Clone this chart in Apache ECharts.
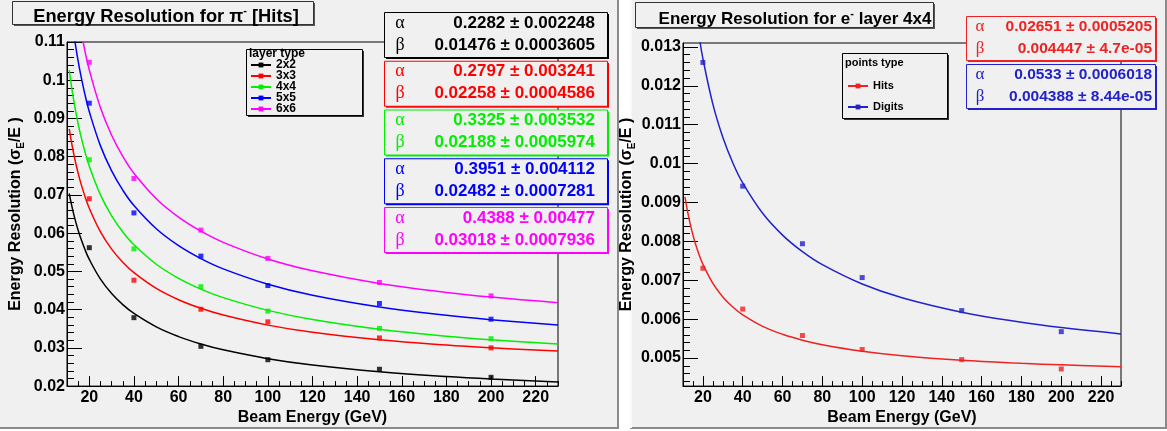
<!DOCTYPE html>
<html><head><meta charset="utf-8">
<script src="https://cdn.jsdelivr.net/npm/echarts@6/dist/echarts.min.js"></script>
<style>html,body{margin:0;padding:0;background:#fff}#c{width:1167px;height:431px}</style>
</head><body><div id="c"></div>
<script>
// ---------- data ----------
const energies = [20, 40, 70, 100, 150, 200];
const layerTypes = ['2x2', '3x3', '4x4', '5x5', '6x6'];
const pionRes2x2 = [0.0562, 0.0379, 0.0304, 0.0269, 0.0244, 0.0223];
const pionRes3x3 = [0.0690, 0.0477, 0.0401, 0.0368, 0.0326, 0.0300];
const pionRes4x4 = [0.0792, 0.0559, 0.0460, 0.0396, 0.0351, 0.0324];
const pionRes5x5 = [0.0940, 0.0653, 0.0540, 0.0463, 0.0416, 0.0375];
const pionRes6x6 = [0.1047, 0.0743, 0.0608, 0.0534, 0.0471, 0.0436];

const fitEnergies = [11, 12, 13, 14, 15, 16, 18, 20, 25, 30, 35, 40, 50, 60, 70, 80, 100, 120, 150, 180, 200, 230];
const pionFit2x2 = [0.07037, 0.06751, 0.06499, 0.06275, 0.06074, 0.05893, 0.05578, 0.05312, 0.04797, 0.04420, 0.04130, 0.03899, 0.03549, 0.03295, 0.03101, 0.02948, 0.02718, 0.02553, 0.02377, 0.02252, 0.02187, 0.02108];
const pionFit3x3 = [0.08730, 0.08384, 0.08080, 0.07809, 0.07567, 0.07348, 0.06969, 0.06650, 0.06032, 0.05584, 0.05239, 0.04966, 0.04555, 0.04259, 0.04034, 0.03857, 0.03595, 0.03409, 0.03212, 0.03073, 0.03002, 0.02916];
const pionFit4x4 = [0.10262, 0.09845, 0.09478, 0.09152, 0.08860, 0.08596, 0.08137, 0.07750, 0.07001, 0.06453, 0.06032, 0.05695, 0.05187, 0.04819, 0.04537, 0.04314, 0.03981, 0.03742, 0.03487, 0.03306, 0.03212, 0.03098];
const pionFit5x5 = [0.12168, 0.11673, 0.11236, 0.10847, 0.10499, 0.10185, 0.09638, 0.09177, 0.08283, 0.07628, 0.07125, 0.06722, 0.06114, 0.05673, 0.05335, 0.05067, 0.04666, 0.04378, 0.04071, 0.03851, 0.03738, 0.03599];
const pionFit6x6 = [0.13570, 0.13022, 0.12539, 0.12110, 0.11725, 0.11378, 0.10774, 0.10266, 0.09281, 0.08561, 0.08008, 0.07566, 0.06901, 0.06419, 0.06051, 0.05760, 0.05325, 0.05016, 0.04685, 0.04451, 0.04329, 0.04181];

const pionAlpha = ['0.2282 ± 0.002248', '0.2797 ± 0.003241', '0.3325 ± 0.003532', '0.3951 ± 0.004112', '0.4388 ± 0.00477'];
const pionBeta = ['0.01476 ± 0.0003605', '0.02258 ± 0.0004586', '0.02188 ± 0.0005974', '0.02482 ± 0.0007281', '0.03018 ± 0.0007936'];

const pointTypes = ['Hits', 'Digits'];
const electronHits = [0.00731, 0.00626, 0.00558, 0.00522, 0.00496, 0.00472];
const electronDigits = [0.0126, 0.00942, 0.00794, 0.00707, 0.00622, 0.00568];
const elecFitHits = [0.009147, 0.008851, 0.008593, 0.008365, 0.008163, 0.007981, 0.007670, 0.007411, 0.006920, 0.006573, 0.006313, 0.006111, 0.005817, 0.005612, 0.005461, 0.005345, 0.005178, 0.005063, 0.004946, 0.004867, 0.004826, 0.004779];
const elecFitDigits = [0.016659, 0.016000, 0.015421, 0.014906, 0.014445, 0.014029, 0.013308, 0.012700, 0.011528, 0.010675, 0.010021, 0.009502, 0.008722, 0.008162, 0.007736, 0.007401, 0.006904, 0.006552, 0.006181, 0.005919, 0.005784, 0.005622];
const elecAlpha = ['0.02651 ± 0.0005205', '0.0533 ± 0.0006018'];
const elecBeta = ['0.004447 ± 4.7e-05', '0.004388 ± 8.44e-05'];

const xTickLabels = [20, 40, 60, 80, 100, 120, 140, 160, 180, 200, 220];
const elecYTickLabels = [0.005, 0.006, 0.007, 0.008, 0.009, 0.010, 0.011, 0.012, 0.013];

// ---------- styling ----------
const FONT = '"Liberation Sans", Arial, Helvetica, sans-serif';
const SERIF = '"Liberation Serif", "DejaVu Serif", serif';
const BG = '#f0f0f0';
const pionColors = ['#000000', '#ff0000', '#00ee00', '#0000ff', '#ff00ff'];
const elecColors = ['#ee2222', '#2222cc'];
const pionPoints = [pionRes2x2, pionRes3x3, pionRes4x4, pionRes5x5, pionRes6x6];
const pionFits = [pionFit2x2, pionFit3x3, pionFit4x4, pionFit5x5, pionFit6x6];
const elecPoints = [electronHits, electronDigits];
const elecFits = [elecFitHits, elecFitDigits];

const zip = (xs, ys) => xs.map((x, i) => [x, ys[i]]);
const fmt = v => String(parseFloat(v.toFixed(5)));

// minor tick values (axis decorations)
const elecYMinor = []; for (let k = 22; k <= 65; k++) elecYMinor.push(+(k * 0.0002).toFixed(5));

const series = [];
layerTypes.forEach((name, i) => {
  series.push({ name, type: 'line', xAxisIndex: 0, yAxisIndex: 0, data: zip(fitEnergies, pionFits[i]),
    smooth: 0.4, showSymbol: false, symbol: 'rect', clip: true,
    lineStyle: { color: pionColors[i], width: 1.5 }, itemStyle: { color: pionColors[i] }, z: 3 });
});
layerTypes.forEach((name, i) => {
  series.push({ name, type: 'scatter', xAxisIndex: 0, yAxisIndex: 0, data: zip(energies, pionPoints[i]),
    symbol: 'rect', symbolSize: 5, itemStyle: { color: pionColors[i] }, z: 4 });
});
pointTypes.forEach((name, i) => {
  series.push({ name, type: 'line', xAxisIndex: 2, yAxisIndex: 2, data: zip(fitEnergies, elecFits[i]),
    smooth: 0.4, showSymbol: false, symbol: 'rect', clip: true,
    lineStyle: { color: elecColors[i], width: 1.5 }, itemStyle: { color: elecColors[i] }, z: 3 });
});
pointTypes.forEach((name, i) => {
  series.push({ name, type: 'scatter', xAxisIndex: 2, yAxisIndex: 2, data: zip(energies, elecPoints[i]),
    symbol: 'rect', symbolSize: 5, itemStyle: { color: elecColors[i] }, z: 4 });
});

const labelStyle = { color: '#000', fontFamily: FONT, fontWeight: 'bold', fontSize: 16 };
function majorX(grid) {
  return { type: 'value', gridIndex: grid, min: 10, max: 230, position: 'bottom',
    axisLine: { show: true, lineStyle: { color: '#000', width: 1 } },
    axisTick: { show: true, inside: true, length: 10, customValues: xTickLabels, lineStyle: { color: '#000' } },
    axisLabel: Object.assign({ customValues: xTickLabels, margin: 3 }, labelStyle),
    splitLine: { show: false },
    name: 'Beam Energy (GeV)', nameLocation: 'middle', nameGap: 20,
    nameTextStyle: { color: '#000', fontFamily: FONT, fontWeight: 'bold', fontSize: 16 } };
}
function minorX(grid) {
  return { type: 'value', gridIndex: grid, min: 10, max: 230, interval: 5, position: 'bottom',
    axisLine: { show: false }, axisLabel: { show: false }, splitLine: { show: false },
    axisTick: { show: true, inside: true, length: 5, lineStyle: { color: '#000' } } };
}
const yNameRich = {
  b: { fontFamily: FONT, fontWeight: 'bold', fontSize: 16, lineHeight: 20, color: '#000' },
  sub: { fontFamily: FONT, fontWeight: 'bold', fontSize: 10, lineHeight: 11, verticalAlign: 'bottom', color: '#000' }
};
const yName = '{b|Energy Resolution (σ}{sub|E}{b|/E )}';
const supRich = { sup: { fontFamily: FONT, fontWeight: 'bold', fontSize: 11, lineHeight: 12, verticalAlign: 'top', color: '#000' } };

const option = {
  animation: false,
  backgroundColor: '#ffffff',
  textStyle: { fontFamily: FONT },
  title: [
    { text: 'Energy Resolution for π{sup|-} [Hits]', left: 161, top: 0, textAlign: 'center',
      textStyle: { fontFamily: FONT, fontWeight: 'bold', fontSize: 18.3, lineHeight: 23, color: '#000', rich: supRich } },
    { text: 'Energy Resolution for e{sup|-} layer 4x4', left: 790, top: 3, textAlign: 'center',
      textStyle: { fontFamily: FONT, fontWeight: 'bold', fontSize: 17, lineHeight: 22, color: '#000', rich: supRich } }
  ],
  grid: [
    { left: 67, top: 42, width: 491, height: 345, show: true, borderColor: '#000', borderWidth: 1, backgroundColor: 'transparent' },
    { left: 683, top: 43, width: 438, height: 344, show: true, borderColor: '#000', borderWidth: 1, backgroundColor: 'transparent' }
  ],
  xAxis: [majorX(0), minorX(0), majorX(1), minorX(1)],
  yAxis: [
    { type: 'value', gridIndex: 0, min: 0.02, max: 0.11, interval: 0.01, position: 'left',
      axisLine: { show: true, lineStyle: { color: '#000' } },
      axisTick: { show: true, inside: true, length: 15, lineStyle: { color: '#000' } },
      axisLabel: Object.assign({ margin: 2, formatter: fmt }, labelStyle),
      splitLine: { show: false },
      name: yName, nameLocation: 'middle', nameGap: 41, nameTextStyle: { rich: yNameRich } },
    { type: 'value', gridIndex: 0, min: 0.02, max: 0.11, interval: 0.002, position: 'left',
      axisLine: { show: false }, axisLabel: { show: false }, splitLine: { show: false },
      axisTick: { show: true, inside: true, length: 7, lineStyle: { color: '#000' } } },
    { type: 'value', gridIndex: 1, min: 0.00428, max: 0.0131, position: 'left',
      axisLine: { show: true, lineStyle: { color: '#000' } },
      axisTick: { show: true, inside: true, length: 15, customValues: elecYTickLabels, lineStyle: { color: '#000' } },
      axisLabel: Object.assign({ margin: 2, formatter: fmt, customValues: elecYTickLabels }, labelStyle),
      splitLine: { show: false },
      name: yName, nameLocation: 'middle', nameGap: 37, nameTextStyle: { rich: yNameRich } },
    { type: 'value', gridIndex: 1, min: 0.00428, max: 0.0131, position: 'left',
      axisLine: { show: false }, axisLabel: { show: false }, splitLine: { show: false },
      axisTick: { show: true, inside: true, length: 7, customValues: elecYMinor, lineStyle: { color: '#000' } } }
  ],
  legend: [
    { data: layerTypes, orient: 'vertical', left: 250, top: 59, padding: 0, itemGap: -1,
      itemWidth: 20, itemHeight: 6,
      textStyle: { fontFamily: FONT, fontWeight: 'bold', fontSize: 12, lineHeight: 10, height: 10, color: '#000' } },
    { data: pointTypes, orient: 'vertical', left: 847, top: 80, padding: 0, itemGap: 9,
      itemWidth: 20, itemHeight: 6,
      textStyle: { fontFamily: FONT, fontWeight: 'bold', fontSize: 11, lineHeight: 12, color: '#000' } }
  ],
  series,
  graphic: { elements: [] }
};

const G = option.graphic.elements;
function box(x, y, w, h, stroke, shadow, z) {
  G.push({ type: 'rect', z: z, silent: true, shape: { x: x + 2, y: y + 2, width: w, height: h }, style: { fill: shadow } });
  G.push({ type: 'rect', z: z, silent: true, shape: { x: x + 0.5, y: y + 0.5, width: w, height: h }, style: { fill: BG, stroke: stroke, lineWidth: 1 } });
}
// panels
G.push({ type: 'rect', z: -10, silent: true, shape: { x: 0, y: 0, width: 619, height: 429 }, style: { fill: BG } });
G.push({ type: 'polyline', z: -9, silent: true, shape: { points: [[618, 0], [618, 428], [0, 428]] }, style: { stroke: '#8a8a8a', lineWidth: 2, fill: null } });
G.push({ type: 'rect', z: -10, silent: true, shape: { x: 630, y: 0, width: 537, height: 429 }, style: { fill: BG } });
G.push({ type: 'polyline', z: -9, silent: true, shape: { points: [[1166, 0], [1166, 428], [630, 428]] }, style: { stroke: '#8a8a8a', lineWidth: 2, fill: null } });
G.push({ type: 'line', z: -9, silent: true, shape: { x1: 631, y1: 0, x2: 631, y2: 428 }, style: { stroke: '#fafafa', lineWidth: 2 } });
// title boxes
box(12, 1, 301, 23, '#333', '#555', 1);
box(635, 2, 298, 25, '#333', '#555', 1);
// legend boxes
box(246, 49, 116, 66, '#000', '#333', 3);
G.push({ type: 'text', z: 5, silent: true, style: { x: 249, y: 54, text: 'layer type', fill: '#000', font: 'bold 12px ' + FONT, verticalAlign: 'middle' } });
box(842, 53, 105, 65, '#000', '#333', 3);
G.push({ type: 'text', z: 5, silent: true, style: { x: 845, y: 63, text: 'points type', fill: '#000', font: 'bold 11px ' + FONT, verticalAlign: 'middle' } });
// stats boxes
pionAlpha.forEach((a, i) => {
  const top = 12 + i * 48.75, c = pionColors[i];
  box(384, top, 223, 45, c, c, 10);
  G.push({ type: 'text', z: 11, silent: true, style: { x: 400, y: top + 11, text: 'α', fill: c, font: '18px ' + SERIF, align: 'center', verticalAlign: 'middle' } });
  G.push({ type: 'text', z: 11, silent: true, style: { x: 400, y: top + 33, text: 'β', fill: c, font: '18px ' + SERIF, align: 'center', verticalAlign: 'middle' } });
  G.push({ type: 'text', z: 11, silent: true, style: { x: 595, y: top + 11, text: a, fill: c, font: 'bold 17px ' + FONT, align: 'right', verticalAlign: 'middle' } });
  G.push({ type: 'text', z: 11, silent: true, style: { x: 595, y: top + 33, text: pionBeta[i], fill: c, font: 'bold 17px ' + FONT, align: 'right', verticalAlign: 'middle' } });
});
elecAlpha.forEach((a, i) => {
  const top = 16 + i * 48, c = elecColors[i];
  box(966, top, 189, 44, c, c, 10);
  G.push({ type: 'text', z: 11, silent: true, style: { x: 980, y: top + 11, text: 'α', fill: c, font: '17px ' + SERIF, align: 'center', verticalAlign: 'middle' } });
  G.push({ type: 'text', z: 11, silent: true, style: { x: 980, y: top + 33, text: 'β', fill: c, font: '17px ' + SERIF, align: 'center', verticalAlign: 'middle' } });
  G.push({ type: 'text', z: 11, silent: true, style: { x: 1152, y: top + 11, text: a, fill: c, font: 'bold 15.5px ' + FONT, align: 'right', verticalAlign: 'middle' } });
  G.push({ type: 'text', z: 11, silent: true, style: { x: 1152, y: top + 33, text: elecBeta[i], fill: c, font: 'bold 15.5px ' + FONT, align: 'right', verticalAlign: 'middle' } });
});

const chart = echarts.init(document.getElementById('c'), null, { renderer: 'canvas' });
chart.setOption(option);
</script></body></html>
